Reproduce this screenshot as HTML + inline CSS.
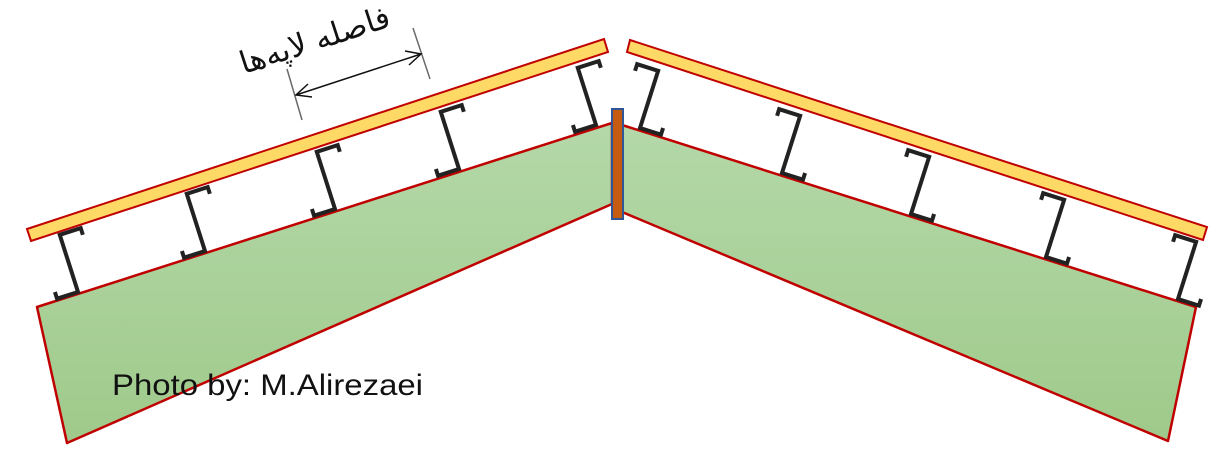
<!DOCTYPE html>
<html><head><meta charset="utf-8"><style>html,body{margin:0;padding:0;background:#fff}svg{display:block}</style></head>
<body>
<svg width="1220" height="464" viewBox="0 0 1220 464" xmlns="http://www.w3.org/2000/svg">
<defs>
<linearGradient id="g" x1="0" y1="0" x2="0" y2="1">
<stop offset="0" stop-color="#b4d8a8"/><stop offset="1" stop-color="#9fca8b"/>
</linearGradient>
</defs>
<polygon points="37,307 612,123 612,204 67,443" fill="url(#g)" stroke="#c00000" stroke-width="2.5" stroke-linejoin="round"/>
<polygon points="622,125 1196,307 1168,441 622,212" fill="url(#g)" stroke="#c00000" stroke-width="2.5" stroke-linejoin="round"/>
<polygon points="27,229 604,39 608,52 31,241" fill="#ffd966" stroke="#c00000" stroke-width="2"/>
<polygon points="630,40 1207,227 1203,240 627,52" fill="#ffd966" stroke="#c00000" stroke-width="2"/>
<g fill="none" stroke="#222" stroke-width="4" stroke-linejoin="miter">
<g transform="translate(78,292) rotate(-17.7)"><path d="M22,-53 L22,-60 L0,-60 L0,0 L-22,0 L-22,-7"/></g>
<g transform="translate(205,251) rotate(-17.7)"><path d="M22,-53 L22,-60 L0,-60 L0,0 L-22,0 L-22,-7"/></g>
<g transform="translate(335,209) rotate(-17.7)"><path d="M22,-53 L22,-60 L0,-60 L0,0 L-22,0 L-22,-7"/></g>
<g transform="translate(459,169) rotate(-17.7)"><path d="M22,-53 L22,-60 L0,-60 L0,0 L-22,0 L-22,-7"/></g>
<g transform="translate(596,125) rotate(-17.7)"><path d="M22,-53 L22,-60 L0,-60 L0,0 L-22,0 L-22,-7"/></g>
<g transform="translate(640,128) rotate(17.6)"><path d="M-22,-53 L-22,-60 L0,-60 L0,0 L22,0 L22,-7"/></g>
<g transform="translate(782,173) rotate(17.6)"><path d="M-22,-53 L-22,-60 L0,-60 L0,0 L22,0 L22,-7"/></g>
<g transform="translate(911,214) rotate(17.6)"><path d="M-22,-53 L-22,-60 L0,-60 L0,0 L22,0 L22,-7"/></g>
<g transform="translate(1046,257) rotate(17.6)"><path d="M-22,-53 L-22,-60 L0,-60 L0,0 L22,0 L22,-7"/></g>
<g transform="translate(1178,299) rotate(17.6)"><path d="M-22,-53 L-22,-60 L0,-60 L0,0 L22,0 L22,-7"/></g>
</g>
<rect x="612" y="109" width="11" height="110" fill="#c55a11" stroke="#2f5597" stroke-width="2"/>
<line x1="287" y1="69" x2="302" y2="120" stroke="#6a6a6a" stroke-width="1.5"/>
<line x1="413" y1="28" x2="430" y2="79" stroke="#6a6a6a" stroke-width="1.5"/>
<g stroke="#111" stroke-width="1.5" fill="none">
<line x1="296" y1="95" x2="421" y2="54"/>
<path d="M308,84 L296,95 L312,97"/>
<path d="M405,51 L421,54 L409,65"/>
</g>
<text x="318" y="50" transform="rotate(-18 318 50)" text-anchor="middle" font-family="'DejaVu Sans', sans-serif" font-size="31" fill="#111" direction="rtl">فاصله لاپه‌ها</text>
<text x="112" y="395" font-family="'Liberation Sans', sans-serif" font-size="30" fill="#111" textLength="311" lengthAdjust="spacingAndGlyphs">Photo by: M.Alirezaei</text>
</svg>
</body></html>
